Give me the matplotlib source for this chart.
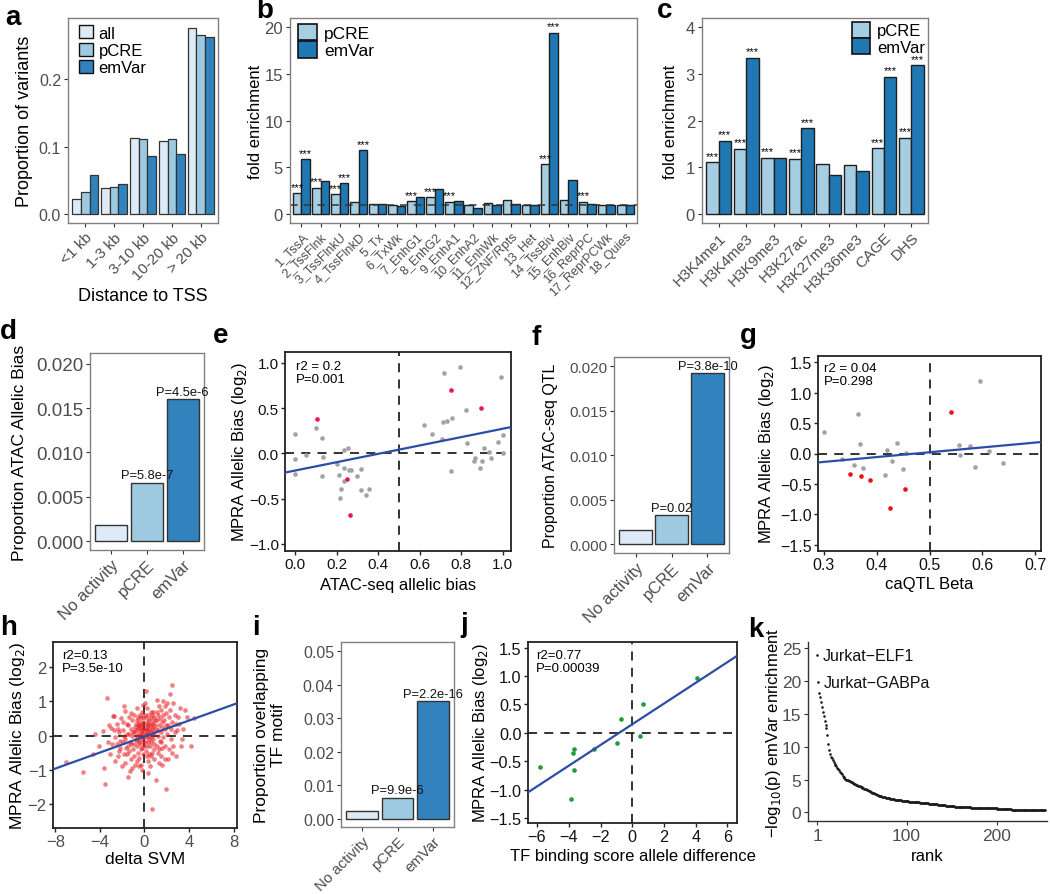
import numpy as np
import matplotlib
matplotlib.use('Agg')
import matplotlib.pyplot as plt
from matplotlib.patches import Patch

plt.rcParams['font.family'] = ['Liberation Sans', 'DejaVu Sans']

# ---------------- data ----------------
a_categories = ['<1 kb', '1-3 kb', '3-10 kb', '10-20 kb', '> 20 kb']
a_all = [0.022, 0.039, 0.113, 0.108, 0.277]
a_pcre = [0.032, 0.040, 0.111, 0.111, 0.266]
a_emvar = [0.058, 0.044, 0.086, 0.089, 0.264]

b_categories = ['1_TssA', '2_TssFlnk', '3_TssFlnkU', '4_TssFlnkD', '5_Tx', '6_TxWk',
                '7_EnhG1', '8_EnhG2', '9_EnhA1', '10_EnhA2', '11_EnhWk', '12_ZNF/Rpts',
                '13_Het', '14_TssBiv', '15_EnhBiv', '16_ReprPC', '17_ReprPCWk', '18_Quies']
b_pcre = [2.2, 2.8, 2.1, 1.3, 1.07, 0.98, 1.35, 1.8, 1.3, 0.98, 1.15, 1.45, 0.95, 5.3, 1.45, 1.3, 1.0, 0.95]
b_emvar = [5.86, 3.57, 3.3, 6.8, 1.04, 0.85, 1.8, 2.7, 1.4, 0.6, 0.98, 1.05, 0.95, 19.4, 3.6, 1.1, 1.0, 0.95]
b_pcre_sig = [1, 1, 1, 0, 0, 0, 1, 1, 1, 0, 0, 0, 0, 1, 0, 1, 0, 0]
b_emvar_sig = [1, 0, 1, 1, 0, 0, 0, 0, 0, 0, 0, 0, 0, 1, 0, 0, 0, 0]

c_categories = ['H3K4me1', 'H3K4me3', 'H3K9me3', 'H3K27ac', 'H3K27me3', 'H3K36me3', 'CAGE', 'DHS']
c_pcre = [1.11, 1.40, 1.21, 1.19, 1.07, 1.05, 1.41, 1.64]
c_emvar = [1.57, 3.35, 1.21, 1.84, 0.84, 0.93, 2.94, 3.19]
c_pcre_sig = [1, 1, 1, 1, 0, 0, 1, 1]
c_emvar_sig = [1, 1, 0, 1, 0, 0, 1, 1]

grp_categories = ['No activity', 'pCRE', 'emVar']
d_values = [0.0018, 0.0066, 0.0160]
d_pvals = ['', 'P=5.8e-7', 'P=4.5e-6']
f_values = [0.00157, 0.00326, 0.0192]
f_pvals = ['', 'P=0.02', 'P=3.8e-10']
i_values = [0.0022, 0.0062, 0.0351]
i_pvals = ['', 'P=9.9e-6', 'P=2.2e-16']

e_gray_x = [0.0, 0.0, 0.0, 0.05, 0.097, 0.129, 0.132, 0.129, 0.2, 0.21, 0.214, 0.221, 0.233, 0.233,
            0.236, 0.255, 0.256, 0.266, 0.298, 0.317, 0.314, 0.338, 0.353,
            0.622, 0.657, 0.705, 0.71, 0.718, 0.732, 0.748, 0.756, 0.793, 0.823, 0.829, 0.863,
            0.866, 0.889, 0.897, 0.911, 0.935, 0.942, 0.974, 0.993, 1.0, 1.0]
e_gray_y = [0.217, -0.066, -0.225, -0.02, 0.28, 0.17, -0.04, -0.25, -0.12, -0.24, -0.49, -0.40, 0.037,
            -0.166, -0.31, 0.055, -0.18, -0.19, -0.25, -0.177, -0.405, -0.457, -0.40,
            0.31, 0.21, 0.162, 0.346, 0.884, 0.354, -0.2, 0.386, 0.95, 0.48, 0.11, -0.085,
            -0.05, -0.166, -0.085, 0.063, 0.01, -0.05, 0.13, 0.847, 0.2, 0.0]
e_red_x = [0.106, 0.248, 0.264, 0.752, 0.894]
e_red_y = [0.38, -0.287, -0.68, 0.696, 0.505]
e_fit = (0.462, -0.19)

g_gray_x = [0.30, 0.334, 0.358, 0.364, 0.369, 0.374, 0.416, 0.42, 0.429, 0.439, 0.449, 0.456,
            0.555, 0.558, 0.576, 0.586, 0.596, 0.613, 0.64]
g_gray_y = [0.355, -0.093, -0.19, 0.655, 0.164, -0.24, -0.355, 0.05, -0.125, 0.17, -0.256, 0.016,
            0.136, -0.027, 0.115, -0.22, 1.19, 0.044, -0.164]
g_red_x = [0.35, 0.37, 0.387, 0.425, 0.454, 0.541]
g_red_y = [-0.333, -0.366, -0.44, -0.89, -0.584, 0.68]
g_fit = (0.793, -0.376)

h_x = [-7.0, -5.5, -4.6, -4.1, -4.4,
       -3.6, -3.5, -3.4, -3.2, -3.0, -3.3, -3.1, -3.7,
       -2.8, -2.7, -2.9, -2.6, -2.5, -2.4, -2.3, -2.2, -2.1, -2.6, -2.4, -2.2, -2.05, -2.3, -2.7, -2.5,
       -1.8, -1.7, -1.6, -1.9, -1.5, -1.3, -1.8, -1.2, -1.5, -1.9, -1.1, -1.4, -1.6, -1.2, -1.7,
       -1.05, -1.3, -1.45, -1.1, -1.75, -1.25, -1.55, -1.15, -1.9, -1.35, -1.65, -1.0, -1.2, -1.4, -1.8,
       -0.9, -0.8, -0.7, -0.6, -0.5, -0.4, -0.3, -0.2, -0.1, -0.9, -0.8, -0.7, -0.6, -0.5, -0.4, -0.3,
       -0.2, -0.1, -0.95, -0.85, -0.65, -0.45, -0.3, -0.15, -0.75, -0.55, -0.35, -0.25, -0.05, -0.6,
       -0.4, -0.2, -0.1, -0.7, -0.5, -0.25, -0.15, -0.05, -0.85, -0.65, -0.45, -0.35, -0.12, -0.55,
       -0.95, -0.3, -0.2, -0.1, -0.6, -0.4,
       0.1, 0.05, 0.2, 0.3, 0.4, 0.5, 0.6, 0.7, 0.8, 0.9, 0.1, 0.2, 0.3, 0.4, 0.5, 0.6, 0.7, 0.8, 0.9,
       0.05, 0.15, 0.25, 0.35, 0.5, 0.3, 0.7, 0.15, 0.25, 0.35, 0.45, 0.55, 0.65, 0.75, 0.85, 0.95,
       0.1, 0.2, 0.4, 0.6, 0.8, 0.9, 0.45, 0.05, 0.15, 0.3, 0.55, 0.7, 0.85, 0.35, 0.95, 0.25, 0.12,
       0.62, 0.78,
       1.1, 1.2, 1.3, 1.4, 1.5, 1.6, 1.7, 1.8, 1.9, 1.0, 1.3, 1.1, 1.2, 1.4, 1.5, 1.6, 1.7, 1.8, 1.9,
       1.05, 1.25, 1.45, 1.55, 1.65, 1.75, 1.85, 1.95, 1.15, 1.35, 1.6, 1.1, 1.3, 1.5, 1.2, 1.8,
       2.45, 2.3, 2.0, 2.6, 2.7, 2.2, 2.1, 2.4, 2.5, 2.8, 2.2, 2.4, 2.6, 2.9, 2.1, 2.3, 2.7, 2.5, 2.0,
       2.85,
       3.2, 3.6, 3.8, 4.4, 4.2, 3.3, 3.1, 3.5, 3.0, 3.4]
h_y = [-0.78, -1.06, -0.55, -0.32, 0.05,
       -0.96, -1.43, 1.1, 0.3, 0.22, -0.2, -0.55, 0.12,
       0.57, 0.58, -0.25, -0.05, 0.35, -0.6, 0.1, -0.35, 0.5, -0.75, 0.2, -0.15, -0.9, -0.45, 0.15, -0.25,
       0.85, 0.72, 0.35, 0.15, -1.2, -1.05, -0.55, -0.7, -0.3, -0.2, 0.45, 0.55, 0.05, 0.2, -0.1,
       -0.4, -0.2, 0.3, -0.95, -0.8, 0.65, -0.55, 0.0, 0.4, -0.45, -0.35, 0.1, -0.25, 0.05, 0.0,
       0.6, 0.35, 0.45, 0.2, 0.4, 0.3, 0.5, 0.25, 0.4, 0.1, -0.1, -0.3, -0.5, -0.2, -0.1, 0.0,
       -0.35, -0.15, -0.6, -0.85, -0.75, -0.65, -0.85, -0.55, 0.15, 0.05, 0.15, 0.35, 0.1, 0.55,
       0.6, 0.7, 0.9, 0.8, -0.9, -1.0, 0.2, -0.3, 0.25, -0.15, 0.25, -0.4, 0.55, 0.3,
       -0.25, 0.1, 0.05, -0.05, 0.0, -0.25,
       1.3, 0.95, 0.8, 0.6, 0.45, 0.3, 0.5, 0.2, 0.4, 0.1, 0.35, 0.15, 0.0, -0.1, -0.3, -0.2, -0.5, -0.1, -0.4,
       -0.2, -0.45, -0.6, -0.75, -0.9, -1.1, -2.15, 0.5, 0.25, 0.3, 0.1, 0.7, 0.35, 0.05, 0.55, 0.3,
       0.05, -0.3, 0.2, 0.1, 0.7, -0.7, -0.55, 0.6, -0.05, 0.4, -0.05, 0.6, -0.25, -0.2, 0.45, 0.05, 0.2,
       -0.6, 0.25,
       1.05, 0.6, 0.3, 0.5, 0.1, 0.4, 1.0, 0.2, 0.65, -1.3, -0.8, -0.3, -0.5, -0.15, -0.6, -0.35, -0.05, -0.7, -1.55,
       0.2, 0.0, 0.75, 0.25, 0.6, 0.45, -0.3, 0.3, 0.45, -0.4, -0.85, 0.7, 0.85, -0.2, 0.15, 0.85,
       1.47, 1.2, 0.95, 0.95, 0.6, 0.55, 0.3, 0.2, 0.4, -0.6, -0.4, -0.1, -0.3, 0.15, -0.7, 0.75, 0.1, -0.5, 0.05,
       0.35,
       0.8, 0.75, 0.55, 0.52, -0.3, -0.3, 0.35, 0.2, 0.55, -0.1]
h_fit = (0.117, -0.03)

j_x = [-5.81, -3.83, -3.75, -3.66, -3.64, -2.4, -0.95, -0.72, 0.48, 0.65, 4.06]
j_y = [-0.61, -1.17, -0.36, -0.28, -0.66, -0.28, -0.18, 0.236, -0.06, 0.51, 0.96]
j_fit = (0.1826, 0.15)

k_values = [23.9, 19.8, 18.2, 17.5, 16.8, 16.0, 15.3, 14.6, 13.9, 13.3, 12.9, 11.7, 10.4, 9.5, 8.9,
            8.5, 8.2, 7.9, 7.7, 7.4, 7.2, 7.0, 6.8, 6.6, 6.4, 6.2, 6.0, 5.8, 5.6, 5.4, 5.2, 5.1, 5.0,
            4.95, 4.9, 4.8, 4.75, 4.7, 4.6, 4.5, 4.45, 4.35, 4.3, 4.2, 4.1,
            4.05, 4.0, 3.95, 3.9, 3.8, 3.75, 3.7, 3.6, 3.55, 3.5, 3.4,
            3.35, 3.3, 3.2, 3.15, 3.1, 3.0, 2.95, 2.9, 2.8, 2.75, 2.7, 2.6, 2.55, 2.5,
            2.47, 2.44, 2.4, 2.37, 2.34, 2.3, 2.27, 2.24, 2.2, 2.17, 2.14, 2.1, 2.07, 2.04, 2.0,
            1.98, 1.96, 1.94, 1.92, 1.9, 1.88, 1.86, 1.84, 1.82, 1.8, 1.78, 1.76, 1.74, 1.72, 1.7,
            1.69, 1.68, 1.66, 1.65, 1.64, 1.62, 1.61, 1.6, 1.58, 1.57, 1.56, 1.54, 1.53, 1.52, 1.5,
            1.49, 1.47, 1.46, 1.45, 1.43, 1.42, 1.4,
            1.38, 1.37, 1.35, 1.34, 1.32, 1.3, 1.29, 1.27, 1.26, 1.24, 1.22, 1.21, 1.19, 1.18, 1.16,
            1.14, 1.13, 1.11, 1.1,
            1.08, 1.07, 1.05, 1.04, 1.02, 1.01, 0.99, 0.98, 0.96, 0.95, 0.93, 0.92, 0.9, 0.89, 0.88,
            0.87, 0.86, 0.85,
            0.84, 0.83, 0.83, 0.82, 0.81, 0.8, 0.8, 0.79, 0.78, 0.77, 0.77, 0.76, 0.75, 0.74, 0.73,
            0.73, 0.72, 0.71, 0.7,
            0.7, 0.69, 0.69, 0.68, 0.68, 0.67, 0.67, 0.66, 0.66, 0.65, 0.65, 0.64, 0.64, 0.63, 0.63,
            0.62, 0.62, 0.61, 0.61, 0.6, 0.6, 0.6,
            0.59, 0.58, 0.57, 0.56, 0.55, 0.54, 0.53, 0.52, 0.51, 0.5, 0.49, 0.48, 0.47, 0.46, 0.45,
            0.45, 0.44, 0.44, 0.43, 0.43, 0.42, 0.42, 0.41, 0.41, 0.4, 0.4, 0.39, 0.39, 0.38, 0.38,
            0.37, 0.37, 0.36, 0.36, 0.36, 0.35, 0.35,
            0.35, 0.34, 0.34, 0.34, 0.33, 0.33, 0.33, 0.32, 0.32, 0.32, 0.31, 0.31, 0.31, 0.3, 0.3,
            0.3, 0.3]
k_labels = {0: 'Jurkat\u2212ELF1', 1: 'Jurkat\u2212GABPa'}

# ---------------- styling ----------------
C_ALL, C_PCRE, C_EMVAR = '#deebf7', '#9ecae1', '#3182bd'
C_PCRE2, C_EMVAR2 = '#a6cee3', '#1f78b4'
EDGE = '#1e1e1e'
GRAY_TXT = '#4d4d4d'

W, H = 1050, 895
fig = plt.figure(figsize=(W / 100, H / 100), dpi=100)


def add_ax(x0, y0, x1, y1):
    return fig.add_axes([x0 / W, 1 - y1 / H, (x1 - x0) / W, (y1 - y0) / H])


def gg_style(ax, fs=11):
    for s in ax.spines.values():
        s.set_color('#808080')
        s.set_linewidth(1.0)
    ax.tick_params(direction='out', length=3, width=0.8, color='#333333',
                   labelcolor=GRAY_TXT, labelsize=fs, pad=2)


def base_style(ax, fs=11, labelcolor='#111111'):
    for s in ax.spines.values():
        s.set_color('#222222')
        s.set_linewidth(1.3)
    ax.tick_params(direction='out', length=3, width=1.0, color='#222222',
                   labelcolor=labelcolor, labelsize=fs, pad=1.5)


def ylabel_px(ax, text, x_right, box, fs=12, **kw):
    ax.set_ylabel(text, fontsize=fs, **kw)
    ax.yaxis.set_label_coords((x_right - box[0]) / (box[2] - box[0]), 0.5)


def xlabel_px(ax, text, y_top, box, fs=12, **kw):
    ax.set_xlabel(text, fontsize=fs, **kw)
    ax.xaxis.set_label_coords(0.5, 1 - (y_top - box[1]) / (box[3] - box[1]))


def rot_xticks(ax, labels, fs):
    ax.set_xticks(np.arange(1, len(labels) + 1))
    ax.set_xticklabels(labels, rotation=45, ha='right', va='top',
                       rotation_mode='anchor', fontsize=fs)


def panel_letter(x, y, s):
    fig.text(x / W, 1 - y / H, s, fontsize=20, fontweight='bold', va='baseline', ha='left')


# ---------------- panel a ----------------
box = (68, 19, 218, 224)
ax = add_ax(*box)
xs = np.arange(1, len(a_categories) + 1)
w = 0.3
for k_, (vals, col, lab) in enumerate([(a_all, C_ALL, 'all'), (a_pcre, C_PCRE, 'pCRE'),
                                        (a_emvar, C_EMVAR, 'emVar')]):
    ax.bar(xs + (k_ - 1) * w, vals, width=w, color=col, edgecolor='#333333', linewidth=0.9)
ax.set_xlim(0.4, len(a_categories) + 0.6)
ax.set_ylim(-0.0139, 0.2916)
ax.set_yticks([0, 0.1, 0.2])
ax.set_yticklabels(['0.0', '0.1', '0.2'])
gg_style(ax, 11.5)
rot_xticks(ax, a_categories, 11)
ylabel_px(ax, 'Proportion of variants', 33, box, fs=13)
xlabel_px(ax, 'Distance to TSS', 288, box, fs=13)
handles = [Patch(facecolor=c, edgecolor='#111111', linewidth=1.0, label=l)
           for c, l in [(C_ALL, 'all'), (C_PCRE, 'pCRE'), (C_EMVAR, 'emVar')]]
ax.legend(handles=handles, loc='upper left', bbox_to_anchor=(0.07, 0.965), frameon=False,
          borderaxespad=0, borderpad=0, handlelength=0.85, handleheight=0.85,
          labelspacing=0.12, handletextpad=0.35, fontsize=12)

# ---------------- panel b ----------------
box = (290, 19, 637, 224)
ax = add_ax(*box)
xs = np.arange(1, len(b_categories) + 1)
w = 0.45
ax.bar(xs - w / 2, b_pcre, width=w, color=C_PCRE2, edgecolor=EDGE, linewidth=1.0)
ax.bar(xs + w / 2, b_emvar, width=w, color=C_EMVAR2, edgecolor=EDGE, linewidth=1.0)
ax.axhline(1, color='#333333', lw=1.1, ls=(0, (5, 4)))
for xi, v, s in zip(xs, b_pcre, b_pcre_sig):
    if s:
        ax.text(xi - w / 2, v + 0.15, '***', ha='center', va='bottom', fontsize=8)
for xi, v, s in zip(xs, b_emvar, b_emvar_sig):
    if s:
        ax.text(xi + w / 2, v + 0.15, '***', ha='center', va='bottom', fontsize=8)
ax.set_xlim(0.4, len(b_categories) + 0.6)
ax.set_ylim(-0.97, 21.0)
ax.set_yticks([0, 5, 10, 15, 20])
gg_style(ax, 12)
rot_xticks(ax, b_categories, 9)
ylabel_px(ax, 'fold enrichment', 263, box, fs=12)
handles = [Patch(facecolor=C_PCRE2, edgecolor='#111111', linewidth=1.2, label='pCRE'),
           Patch(facecolor=C_EMVAR2, edgecolor='#111111', linewidth=1.2, label='emVar')]
ax.legend(handles=handles, loc='upper left', bbox_to_anchor=(0.023, 0.972), frameon=False,
          borderaxespad=0, borderpad=0, handlelength=1.1, handleheight=1.1,
          labelspacing=0.0, handletextpad=0.4, fontsize=12.5)

# ---------------- panel c ----------------
box = (702, 19, 928, 224)
ax = add_ax(*box)
xs = np.arange(1, len(c_categories) + 1)
ax.bar(xs - w / 2, c_pcre, width=w, color=C_PCRE2, edgecolor=EDGE, linewidth=1.0)
ax.bar(xs + w / 2, c_emvar, width=w, color=C_EMVAR2, edgecolor=EDGE, linewidth=1.0)
for xi, v, s in zip(xs, c_pcre, c_pcre_sig):
    if s:
        ax.text(xi - w / 2, v + 0.03, '***', ha='center', va='bottom', fontsize=8)
for xi, v, s in zip(xs, c_emvar, c_emvar_sig):
    if s:
        ax.text(xi + w / 2, v + 0.03, '***', ha='center', va='bottom', fontsize=8)
ax.set_xlim(0.4, len(c_categories) + 0.6)
ax.set_ylim(-0.19, 4.2)
ax.set_yticks([0, 1, 2, 3, 4])
gg_style(ax, 12)
rot_xticks(ax, c_categories, 11)
ylabel_px(ax, 'fold enrichment', 678, box, fs=12)
ax.legend(handles=handles, loc='upper left', bbox_to_anchor=(0.664, 0.982), frameon=False,
          borderaxespad=0, borderpad=0, handlelength=1.1, handleheight=1.1,
          labelspacing=0.0, handletextpad=0.4, fontsize=12)


# ---------------- grouped proportion bars (d, f, i) ----------------
def prop_panel(box, values, pvals, ylim, yticks, yticklabels, ylabel, ylab_x,
               tick_fs, xtick_fs, ylab_fs):
    ax = add_ax(*box)
    xs = np.arange(1, len(grp_categories) + 1)
    ax.bar(xs, values, width=0.9, color=[C_ALL, C_PCRE, C_EMVAR], edgecolor='#333333', linewidth=1.0)
    for xi, v, p in zip(xs, values, pvals):
        if p:
            ax.annotate(p, xy=(xi, v), xytext=(0, 1), textcoords='offset points',
                        ha='center', va='bottom', fontsize=9.3, color='#111111',
                        annotation_clip=False)
    ax.set_xlim(0.4, 3.6)
    ax.set_ylim(*ylim)
    ax.set_yticks(yticks)
    ax.set_yticklabels(yticklabels)
    gg_style(ax, tick_fs)
    rot_xticks(ax, grp_categories, xtick_fs)
    ylabel_px(ax, ylabel, ylab_x, box, fs=ylab_fs)
    return ax


prop_panel((90, 354, 204, 551), d_values, d_pvals, (-0.001, 0.0212),
           [0, 0.005, 0.01, 0.015, 0.02], ['0.000', '0.005', '0.010', '0.015', '0.020'],
           'Proportion ATAC Allelic Bias', 27, 13.5, 12, 12.5)
prop_panel((614, 358, 729, 554), f_values, f_pvals, (-0.00097, 0.02105),
           [0, 0.005, 0.01, 0.015, 0.02], ['0.000', '0.005', '0.010', '0.015', '0.020'],
           'Proportion ATAC-seq QTL', 558, 11, 12, 11.5)
prop_panel((341, 643, 454, 828), i_values, i_pvals, (-0.0025, 0.0527),
           [0, 0.01, 0.02, 0.03, 0.04, 0.05], ['0.00', '0.01', '0.02', '0.03', '0.04', '0.05'],
           'Proportion overlapping\nTF motif', 286, 11.5, 10.8, 12.5)


# ---------------- scatter panels ----------------
def fit_line(ax, fit, xlim):
    xx = np.array(xlim)
    ax.plot(xx, fit[0] * xx + fit[1], color='#2a4ea6', lw=1.6, zorder=4)


def stat_text(ax, text, dx, dy, fs=9.5):
    ax.annotate(text, xy=(0, 1), xycoords='axes fraction', xytext=(dx, -dy),
                textcoords='offset pixels', ha='left', va='top', fontsize=fs, linespacing=1.15)


DASH = (0, (5, 4))
ylab_log2 = 'MPRA Allelic Bias (log$_2$)'

# e
box = (285, 353, 511, 552)
ax = add_ax(*box)
xl = (-0.05, 1.039)
ax.axvline(0.5, color='#222222', lw=1.3, ls=DASH, zorder=1)
ax.axhline(0, color='#222222', lw=1.3, ls=DASH, zorder=1)
ax.scatter(e_gray_x, e_gray_y, s=11, color='#a3a3a3', linewidths=0, zorder=2)
ax.scatter(e_red_x, e_red_y, s=11, color='#e8174f', linewidths=0, zorder=3)
fit_line(ax, e_fit, xl)
ax.set_xlim(*xl)
ax.set_ylim(-1.08, 1.12)
ax.set_xticks([0, 0.2, 0.4, 0.6, 0.8, 1.0])
ax.set_yticks([-1, -0.5, 0, 0.5, 1.0])
ax.set_yticklabels(['\u22121.0', '\u22120.5', '0.0', '0.5', '1.0'])
base_style(ax, 11)
stat_text(ax, 'r2 = 0.2\nP=0.001', 11, 8)
ylabel_px(ax, ylab_log2, 249, box, fs=12)
xlabel_px(ax, 'ATAC-seq allelic bias', 578, box, fs=12)

# g
box = (818, 357, 1041, 552)
ax = add_ax(*box)
xl = (0.289, 0.711)
ax.axvline(0.5, color='#222222', lw=1.3, ls=DASH, zorder=1)
ax.axhline(0, color='#222222', lw=1.3, ls=DASH, zorder=1)
ax.scatter(g_gray_x, g_gray_y, s=11, color='#a3a3a3', linewidths=0, zorder=2)
ax.scatter(g_red_x, g_red_y, s=11, color='#ee1111', linewidths=0, zorder=3)
fit_line(ax, g_fit, xl)
ax.set_xlim(*xl)
ax.set_ylim(-1.6, 1.6)
ax.set_xticks([0.3, 0.4, 0.5, 0.6, 0.7])
ax.set_yticks([-1.5, -1.0, -0.5, 0, 0.5, 1.0, 1.5])
ax.set_yticklabels(['\u22121.5', '\u22121.0', '\u22120.5', '0.0', '0.5', '1.0', '1.5'])
base_style(ax, 11.5)
stat_text(ax, 'r2 = 0.04\nP=0.298', 6, 6)
ylabel_px(ax, ylab_log2, 776, box, fs=12)
xlabel_px(ax, 'caQTL Beta', 577, box, fs=12)

# h
box = (53, 643, 237, 829)
ax = add_ax(*box)
xl = (-8.2, 8.3)
ax.axvline(0, color='#222222', lw=1.3, ls=DASH, zorder=1)
ax.axhline(0, color='#222222', lw=1.3, ls=DASH, zorder=1)
ax.scatter(h_x, h_y, s=11, color='#e8191e', alpha=0.55, linewidths=0, zorder=2)
fit_line(ax, h_fit, xl)
ax.set_xlim(*xl)
ax.set_ylim(-2.7, 2.73)
ax.set_xticks([-8, -4, 0, 4, 8])
ax.set_yticks([-2, -1, 0, 1, 2])
base_style(ax, 12, labelcolor=GRAY_TXT)
stat_text(ax, 'r2=0.13\nP=3.5e-10', 9, 7)
ylabel_px(ax, ylab_log2, 27, box, fs=12.5)
xlabel_px(ax, 'delta SVM', 852, box, fs=12.5)

# j
box = (528, 643, 737, 824)
ax = add_ax(*box)
xl = (-6.57, 6.6)
ax.axvline(0, color='#222222', lw=1.3, ls=DASH, zorder=1)
ax.axhline(0, color='#222222', lw=1.3, ls=DASH, zorder=1)
ax.scatter(j_x, j_y, s=11, color='#1f9a3d', linewidths=0, zorder=3)
fit_line(ax, j_fit, xl)
ax.set_xlim(*xl)
ax.set_ylim(-1.59, 1.6)
ax.set_xticks([-6, -4, -2, 0, 2, 4, 6])
ax.set_yticks([-1.5, -1.0, -0.5, 0, 0.5, 1.0, 1.5])
ax.set_yticklabels(['\u22121.5', '\u22121.0', '\u22120.5', '0.0', '0.5', '1.0', '1.5'])
base_style(ax, 11.7)
stat_text(ax, 'r2=0.77\nP=0.00039', 8, 7)
ylabel_px(ax, ylab_log2, 490, box, fs=12)
xlabel_px(ax, 'TF binding score allele difference', 849, box, fs=12)

# k
box = (808, 643, 1047, 822)
ax = add_ax(*box)
ranks = np.arange(1, len(k_values) + 1)
ax.scatter(ranks, k_values, s=3.5, color='#1a1a1a', linewidths=0)
for idx, lab in k_labels.items():
    ax.annotate(lab, xy=(ranks[idx], k_values[idx]), xytext=(5, 0), textcoords='offset pixels',
                ha='left', va='center', fontsize=11.5, color='#111111')
ax.set_xlim(-9.5, 256)
ax.set_ylim(-1.3, 25.9)
ax.set_xticks([1, 100, 200])
ax.set_yticks([0, 5, 10, 15, 20, 25])
for side in ['top', 'right']:
    ax.spines[side].set_visible(False)
for side in ['left', 'bottom']:
    ax.spines[side].set_color('#333333')
    ax.spines[side].set_linewidth(1.0)
ax.tick_params(direction='out', length=3, width=0.8, color='#333333',
               labelcolor=GRAY_TXT, labelsize=12.5, pad=2)
ylabel_px(ax, '\u2212log$_{10}$(p) emVar enrichment', 783, box, fs=12)
xlabel_px(ax, 'rank', 849, box, fs=12)

# ---------------- panel letters ----------------
panel_letter(5, 25, 'a')
panel_letter(256, 18, 'b')
panel_letter(657, 18, 'c')
panel_letter(0, 339, 'd')
panel_letter(213, 343, 'e')
panel_letter(532, 345, 'f')
panel_letter(740, 343, 'g')
panel_letter(0, 635, 'h')
panel_letter(252, 635, 'i')
panel_letter(460, 632, 'j')
panel_letter(748, 637, 'k')

fig.savefig('out.png', dpi=100)
